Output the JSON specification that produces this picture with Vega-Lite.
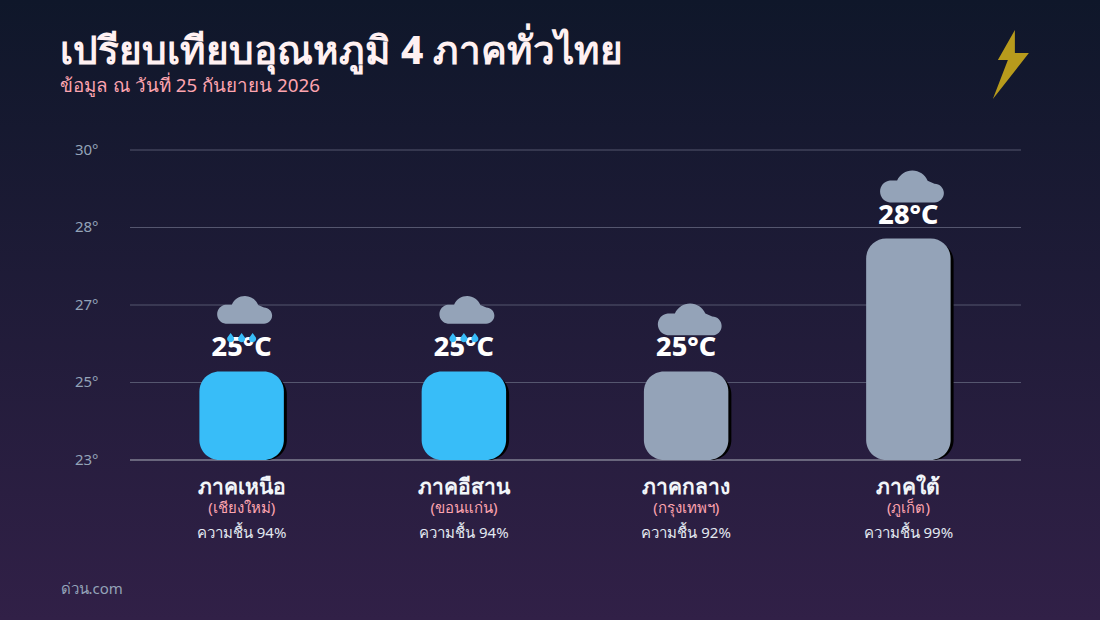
{
  "$schema": "https://vega.github.io/schema/vega-lite/v6.json",
  "width": 891,
  "height": 310,
  "autosize": {"type": "none"},
  "padding": {"left": 130, "top": 150, "right": 79, "bottom": 160},
  "background": "#1d1a36",
  "config": {"font": "Noto Sans", "view": {"stroke": null}},
  "title": {
    "text": "เปรียบเทียบอุณหภูมิ 4 ภาคทั่วไทย",
    "subtitle": "ข้อมูล ณ วันที่ 25 กันยายน 2026",
    "anchor": "start",
    "frame": "group",
    "dx": -70,
    "offset": -96,
    "font": "Noto Sans",
    "fontSize": 38.7,
    "fontWeight": 800,
    "color": "#fff1f2",
    "subtitleFont": "Noto Sans",
    "subtitleFontSize": 18.8,
    "subtitleColor": "#fda4af",
    "subtitlePadding": 6
  },
  "layer": [
    {
      "data": {"values": [{}]},
      "mark": {
        "type": "rect",
        "x": -130,
        "x2": 970,
        "y": -150,
        "y2": 470,
        "clip": false,
        "color": {
          "gradient": "linear",
          "x1": 0, "y1": 0, "x2": 0, "y2": 1,
          "stops": [
            {"offset": 0, "color": "#0f172a"},
            {"offset": 1, "color": "#312047"}
          ]
        }
      },
      "encoding": {}
    },
    {
      "data": {"values": [{"tick": 24.75}, {"tick": 26.5}, {"tick": 28.25}, {"tick": 30}]},
      "mark": {"type": "rule", "color": "#55566f", "strokeWidth": 1},
      "encoding": {
        "y": {
          "field": "tick",
          "type": "quantitative",
          "scale": {"domain": [23, 30], "nice": false, "zero": false},
          "axis": {
            "title": null,
            "values": [23, 24.75, 26.5, 28.25, 30],
            "labelExpr": "format(datum.value, '.0f') + '°'",
            "labelColor": "#94a3b8",
            "labelFontSize": 15,
            "labelPadding": 32,
            "labelOffset": -1,
            "domain": false,
            "ticks": false,
            "grid": false,
            "zindex": 1
          }
        }
      }
    },
    {
      "data": {"values": [{"tick": 23}]},
      "mark": {"type": "rule", "color": "#7f7f92", "strokeWidth": 1.5},
      "encoding": {
        "y": {"field": "tick", "type": "quantitative"}
      }
    },
    {
      "data": {
        "values": [
          {"region": "ภาคเหนือ", "province": "(เชียงใหม่)", "temp": 25, "label": "25°C", "humidity": "ความชื้น 94%", "sky": "ฝน"},
          {"region": "ภาคอีสาน", "province": "(ขอนแก่น)", "temp": 25, "label": "25°C", "humidity": "ความชื้น 94%", "sky": "ฝน"},
          {"region": "ภาคกลาง", "province": "(กรุงเทพฯ)", "temp": 25, "label": "25°C", "humidity": "ความชื้น 92%", "sky": "เมฆ"},
          {"region": "ภาคใต้", "province": "(ภูเก็ต)", "temp": 28, "label": "28°C", "humidity": "ความชื้น 99%", "sky": "เมฆ"}
        ]
      },
      "encoding": {
        "x": {
          "field": "region",
          "type": "nominal",
          "sort": null,
          "scale": {"paddingInner": 0.62, "paddingOuter": 0.31, "range": [0.5, 889.5]},
          "axis": {
            "title": "ด่วน.com",
            "titleFontSize": 15,
            "titleFontWeight": 400,
            "titleColor": "#94a3b8",
            "titleAlign": "left",
            "titleBaseline": "alphabetic",
            "titleX": -70,
            "titleY": 133,
            "domain": false,
            "ticks": false,
            "labels": false,
            "grid": false,
            "zindex": 1
          }
        },
        "y": {"field": "temp", "type": "quantitative"}
      },
      "layer": [
        {
          "mark": {"type": "bar", "color": "#000000", "cornerRadius": 20, "xOffset": 3, "yOffset": 3},
          "encoding": {"y2": {"datum": 23}}
        },
        {
          "mark": {"type": "bar", "cornerRadius": 20},
          "encoding": {
            "y2": {"datum": 23},
            "color": {
              "field": "sky",
              "type": "nominal",
              "scale": {"domain": ["ฝน", "เมฆ"], "range": ["#38bdf8", "#94a3b8"]},
              "legend": null
            }
          }
        },
        {
          "mark": {"type": "text", "color": "#ffffff", "fontSize": 27, "fontWeight": 800, "baseline": "alphabetic", "dy": -15},
          "encoding": {"text": {"field": "label"}}
        },
        {
          "transform": [{"filter": "datum.sky == 'ฝน'"}],
          "mark": {
            "type": "point",
            "filled": true,
            "opacity": 1,
            "color": "#94a3b8",
            "size": 3136,
            "xOffset": 2.5,
            "yOffset": -61.5,
            "shape": "M -0.66 0.49 A 0.34 0.34 0 0 1 -0.66 -0.186 L -0.439 -0.186 A 0.51 0.51 0 0 1 0.5 -0.18 L 0.71 -0.09 A 0.29 0.29 0 0 1 0.71 0.49 Z"
          }
        },
        {
          "transform": [{"filter": "datum.sky == 'ฝน'"}],
          "mark": {
            "type": "point",
            "filled": true,
            "opacity": 1,
            "color": "#38bdf8",
            "size": 676,
            "yOffset": -34,
            "shape": "M -0.846 -0.346 L -0.596 0 A 0.27 0.27 0 1 1 -1.096 0 Z M 0 -0.346 L 0.25 0 A 0.27 0.27 0 1 1 -0.25 0 Z M 0.846 -0.346 L 1.096 0 A 0.27 0.27 0 1 1 0.596 0 Z"
          }
        },
        {
          "transform": [{"filter": "datum.sky == 'เมฆ'"}],
          "mark": {
            "type": "point",
            "filled": true,
            "opacity": 1,
            "color": "#94a3b8",
            "size": 4225,
            "xOffset": 3,
            "yOffset": -52,
            "shape": "M -0.66 0.49 A 0.34 0.34 0 0 1 -0.66 -0.186 L -0.439 -0.186 A 0.51 0.51 0 0 1 0.5 -0.18 L 0.71 -0.09 A 0.29 0.29 0 0 1 0.71 0.49 Z"
          }
        },
        {
          "mark": {"type": "text", "color": "#f1f5f9", "fontSize": 21, "fontWeight": 700, "baseline": "alphabetic", "dy": 34},
          "encoding": {"text": {"field": "region"}, "y": {"datum": 23}}
        },
        {
          "mark": {"type": "text", "color": "#fda4af", "fontSize": 15, "baseline": "alphabetic", "dy": 53},
          "encoding": {"text": {"field": "province"}, "y": {"datum": 23}}
        },
        {
          "mark": {"type": "text", "color": "#e2e8f0", "fontSize": 15, "baseline": "alphabetic", "dy": 78},
          "encoding": {"text": {"field": "humidity"}, "y": {"datum": 23}}
        },
        {
          "transform": [{"filter": "datum.region == 'ภาคใต้'"}],
          "mark": {
            "type": "point",
            "filled": true,
            "opacity": 1,
            "color": "#b89b1c",
            "size": 4761,
            "xOffset": 102.5,
            "clip": false,
            "shape": "M 0.116 -1 L 0.116 -0.333 L 0.522 -0.333 L -0.522 1 L -0.087 -0.13 L -0.377 -0.13 Z"
          },
          "encoding": {"y": {"datum": 31.93}}
        }
      ]
    }
  ]
}
